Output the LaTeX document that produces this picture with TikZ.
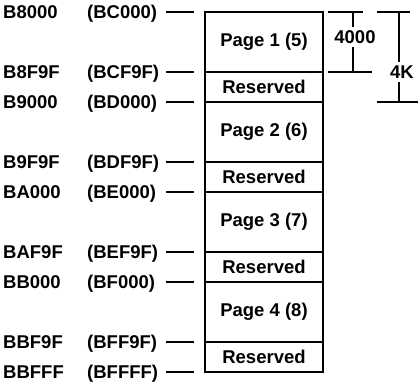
\documentclass[tikz,border=0pt]{standalone}
\usepackage{fontspec}
\setmainfont{Liberation Sans}
\begin{document}
\begin{tikzpicture}[x=1pt,y=-1pt,
  lbl/.style={font=\bfseries\fontsize{18.5}{21}\selectfont, inner sep=0pt, anchor=base west},
  celltxt/.style={font=\bfseries\fontsize{18.5}{21}\selectfont},
  cell/.style={draw, line width=1.8pt, minimum width=118pt, inner sep=0pt, outer sep=0pt, celltxt},
  tick/.style={line width=1.3pt},
  dim/.style={line width=1.2pt}]
\useasboundingbox (0,0) rectangle (418,388);
% cells
\foreach \i/\t in {1/12,2/102,3/192,4/282}{
  \pgfmathsetmacro{\pc}{\t+30}
  \pgfmathsetmacro{\rc}{\t+75}
  \node[cell, minimum height=60pt] (page\i) at (264,\pc) {Page \i\ (\the\numexpr\i+4\relax)};
  \node[cell, minimum height=30pt] (res\i) at (264,\rc) {Reserved};
}
% address labels
\foreach \n/\y/\a/\b in {1/12/B8000/BC000, 2/72/B8F9F/BCF9F, 3/102/B9000/BD000,
  4/162/B9F9F/BDF9F, 5/192/BA000/BE000, 6/252/BAF9F/BEF9F, 7/282/BB000/BF000,
  8/342/BBF9F/BFF9F, 9/372/BBFFF/BFFFF}{
  \node[lbl] (a\n) at (3,\y+6.8) {\a};
  \node[lbl] (b\n) at (87,\y+6.8) {(\b)};
  \coordinate (s\n) at (166,\y);
  \coordinate (e\n) at (194,\y);
  \draw[tick] (s\n) -- (e\n);
}
% dimension 4000
\node[celltxt] (d4000) at (355,37) {4000};
\coordinate (p1) at (328,12); \coordinate (p2) at (363,12);
\coordinate (p3) at (328,72); \coordinate (p4) at (372,72);
\coordinate (v1) at (353,12); \coordinate (v2) at (353,72);
\draw[dim] (p1) -- (p2);
\draw[dim] (p3) -- (p4);
\draw[dim] (v1) -- (v1 |- d4000.north);
\draw[dim] (v2 |- d4000.south) -- (v2);
% dimension 4K
\node[celltxt] (d4k) at (402,72) {4K};
\coordinate (q1) at (377,12); \coordinate (q2) at (410,12);
\coordinate (q3) at (377,102); \coordinate (q4) at (418,102);
\coordinate (w1) at (399,12); \coordinate (w2) at (399,102);
\draw[dim] (q1) -- (q2);
\draw[dim] (q3) -- (q4);
\draw[dim] (w1) -- (w1 |- d4k.north);
\draw[dim] (w2 |- d4k.south) -- (w2);
\end{tikzpicture}
\end{document}
